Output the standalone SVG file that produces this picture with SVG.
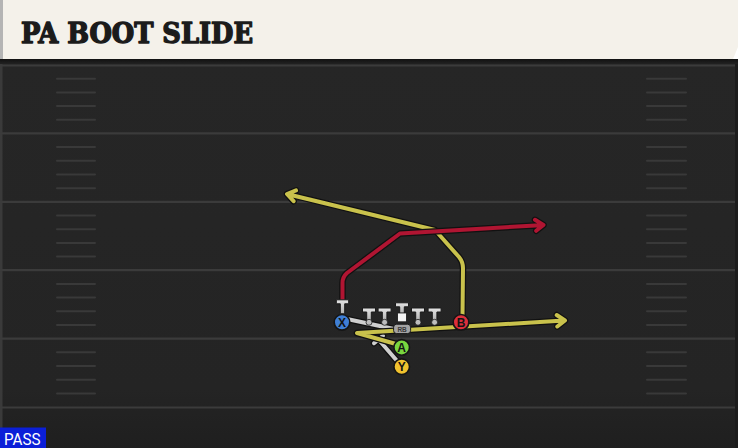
<svg xmlns="http://www.w3.org/2000/svg" width="738" height="448" viewBox="0 0 738 448">
<defs>
<style>
.yard{stroke:#3b3b3b;stroke-width:2.2;fill:none}
.hash{stroke:#393939;stroke-width:2;stroke-linecap:round;fill:none}
.out{fill:none;stroke:#111;stroke-width:6.5;stroke-linecap:round;stroke-linejoin:round}
.yel{fill:none;stroke:#c9c24c;stroke-width:4;stroke-linecap:round;stroke-linejoin:round}
.red{fill:none;stroke:#b01532;stroke-width:4;stroke-linecap:round;stroke-linejoin:round}
.gry{fill:none;stroke:#cfcfcf;stroke-width:4;stroke-linecap:round;stroke-linejoin:round}
.t{fill:url(#tg);stroke:#1a1a1a;stroke-width:1}
.dot{fill:#bdbdbd;stroke:#1a1a1a;stroke-width:0.8}
.circ{stroke:#151515;stroke-width:1.6}
.lbl{font-family:"Liberation Sans",Arial,sans-serif;font-weight:bold;font-size:12px;fill:#141414;text-anchor:middle}
</style>
<linearGradient id="bg" x1="0" y1="0" x2="0" y2="1">
<stop offset="0" stop-color="#262626"/>
<stop offset="0.85" stop-color="#242424"/>
<stop offset="1" stop-color="#1f1f1f"/>
</linearGradient>
<linearGradient id="tg" x1="0" y1="0" x2="0" y2="1">
<stop offset="0" stop-color="#e4e4e4"/>
<stop offset="1" stop-color="#b0b0b0"/>
</linearGradient>
<linearGradient id="sh" x1="0" y1="0" x2="0" y2="1">
<stop offset="0" stop-color="#111"/>
<stop offset="1" stop-color="#222"/>
</linearGradient>
</defs>

<g id="field">
<rect x="0" y="59" width="738" height="389" fill="url(#bg)"/>
<rect x="0" y="59" width="2.5" height="389" fill="#3a3a3a"/>
<rect x="735" y="59" width="3" height="389" fill="#1c1c1c"/>
<rect x="0" y="59" width="738" height="5" fill="url(#sh)"/>
<path class="yard" d="M0 65.5H735M0 133.4H735M0 201.8H735M0 270.2H735M0 338.6H735M0 407.5H735"/>
<path class="hash" d="M57 78.7H95M57 92.4H95M57 106.1H95M57 119.8H95M57 147.1H95M57 160.8H95M57 174.5H95M57 188.2H95M57 215.5H95M57 229.2H95M57 242.9H95M57 256.6H95M57 283.9H95M57 297.6H95M57 311.3H95M57 325H95M57 352.3H95M57 366H95M57 379.7H95M57 393.4H95"/>
<path class="hash" d="M647 78.7H686M647 92.4H686M647 106.1H686M647 119.8H686M647 147.1H686M647 160.8H686M647 174.5H686M647 188.2H686M647 215.5H686M647 229.2H686M647 242.9H686M647 256.6H686M647 283.9H686M647 297.6H686M647 311.3H686M647 325H686M647 352.3H686M647 366H686M647 379.7H686M647 393.4H686"/>
</g>

<g id="title">
<polygon points="0,0 738,0 738,47 733,59 0,59" fill="#f4f1ea"/>
<rect x="0" y="0" width="3" height="59" fill="#b4b4b4"/>
<text x="21" y="43" font-family="'DejaVu Serif','Liberation Serif',serif" font-weight="bold" font-stretch="condensed" font-size="27" textLength="232" lengthAdjust="spacingAndGlyphs" fill="#1b1b1b" stroke="#1b1b1b" stroke-width="1.3" stroke-linejoin="round">PA BOOT SLIDE</text>
</g>

<g id="connectors">
<path class="out" d="M347 319L394 329"/>
<path class="gry" d="M347 319L394 329"/>
<path class="out" d="M398 362L378.5 339.5M374 343.2L383 335.8"/>
<path class="gry" d="M398 362L378.5 339.5M374 343.2L383 335.8"/>
<path class="out" d="M396 344L357 333L560 320.8M557.3 326.5L565 320.5L556.7 315"/>
<path class="yel" d="M396 344L357 333L560 320.8M557.3 326.5L565 320.5L556.7 315"/>
<path class="out" d="M462.5 316L463 268Q463 262 459 257L435 230L290 194.7M296 190.4L287 194L293.6 201.2"/>
<path class="yel" d="M462.5 316L463 268Q463 262 459 257L435 230L290 194.7M296 190.4L287 194L293.6 201.2"/>
<path class="out" d="M342.5 301L342.5 283Q342.5 277 347 273L400 233.5L540 225.2M535 219.8L543.5 225L536.2 230.8"/>
<path class="red" d="M342.5 301L342.5 283Q342.5 277 347 273L400 233.5L540 225.2M535 219.8L543.5 225L536.2 230.8"/>
</g>

<g id="line">
<path class="t" d="M362.5 308h13v4h-4.2v9.3h-4.6v-9.3h-4.2z"/>
<circle class="dot" cx="369" cy="322.3" r="3"/>
<path class="t" d="M378.1 308h13v4h-4.2v9.3h-4.6v-9.3h-4.2z"/>
<circle class="dot" cx="384.6" cy="322.3" r="3"/>
<path class="t" d="M411.5 308h13v4h-4.2v9.3h-4.6v-9.3h-4.2z"/>
<circle class="dot" cx="418" cy="322.3" r="3"/>
<path class="t" d="M428.1 308h13v4h-4.2v9.3h-4.6v-9.3h-4.2z"/>
<circle class="dot" cx="434.6" cy="322.3" r="3"/>
</g>

<g id="C">
<path class="t" d="M395.5 302.8h13v4h-4.2v6.5h-4.6v-6.5h-4.2z"/>
<rect x="397.6" y="313" width="8.8" height="8.8" fill="#f4f4f4" stroke="#1a1a1a" stroke-width="0.8"/>
</g>

<g id="RB">
<rect x="393.6" y="324.2" width="17" height="9.4" rx="3" fill="#a3a3a3" stroke="#1a1a1a" stroke-width="1"/>
<text x="402.1" y="331.6" font-family="'Liberation Sans',Arial,sans-serif" font-size="6.5" font-weight="bold" fill="#3a3a3a" text-anchor="middle">RB</text>
</g>

<g id="X">
<path class="t" d="M336.3 299.8h12.4v4h-4v10h-4.4v-10h-4z"/>
<circle class="circ" cx="342" cy="322.3" r="7.8" fill="#3f7fd6"/>
<text class="lbl" x="342" y="326.6">X</text>
</g>

<g id="B">
<circle class="circ" cx="461" cy="322.3" r="7.8" fill="#dd2f3b"/>
<text class="lbl" x="461" y="326.6">B</text>
</g>

<g id="A">
<circle class="circ" cx="401.7" cy="347.4" r="7.8" fill="#79d63f"/>
<text class="lbl" x="401.7" y="351.7">A</text>
</g>

<g id="Y">
<circle class="circ" cx="401.7" cy="366.7" r="7.8" fill="#f1c22e"/>
<text class="lbl" x="401.7" y="371">Y</text>
</g>

<g id="pass">
<rect x="0" y="427.5" width="46" height="20.5" fill="#0b1fd8"/>
<text x="4" y="445" font-family="Roboto,'Liberation Sans',sans-serif" font-size="16" textLength="36.5" lengthAdjust="spacingAndGlyphs" fill="#ffffff">PASS</text>
</g>
</svg>
